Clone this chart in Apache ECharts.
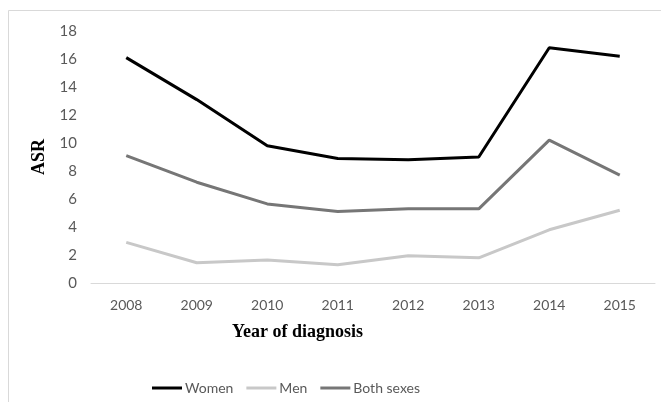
<!DOCTYPE html>
<html><head><meta charset="utf-8">
<script src="https://cdn.jsdelivr.net/npm/echarts@6/dist/echarts.min.js"></script>
<style>html,body{margin:0;padding:0;background:#fff}#c{width:661px;height:402px}</style>
</head><body><div id="c"></div>
<script>
var years = ['2008','2009','2010','2011','2012','2013','2014','2015'];
var women = [16.1, 13.1, 9.8, 8.9, 8.8, 9.0, 16.8, 16.2];
var men = [2.9, 1.45, 1.65, 1.3, 1.95, 1.8, 3.8, 5.2];
var both = [9.1, 7.2, 5.65, 5.1, 5.3, 5.3, 10.2, 7.7];
var yTicks = {min: 0, max: 18, interval: 2};

var FONT = 'Lato, "Open Sans", sans-serif';
var chart = echarts.init(document.getElementById('c'));
chart.setOption({
  animation: false,
  backgroundColor: '#fff',
  graphic: [
    {type: 'rect', shape: {x: 8.5, y: 10.5, width: 720, height: 420}, style: {fill: 'none', stroke: '#d9d9d9', lineWidth: 1}, silent: true},
    {type: 'text', left: 232, top: 323, style: {text: 'Year of diagnosis', font: 'bold 18px "Liberation Serif", "Times New Roman", serif', fill: '#000'}}
  ],
  grid: {left: 91, right: 6, top: 31, bottom: 119, containLabel: false},
  legend: {
    left: 147, top: 376,
    icon: 'rect', itemWidth: 30, itemHeight: 3, itemGap: 13,
    textStyle: {fontFamily: FONT, fontSize: 14, color: '#595959', padding: [0, 0, 0, -2]},
    data: ['Women', 'Men', 'Both sexes']
  },
  xAxis: {
    type: 'category', data: years, boundaryGap: true,
    axisLine: {lineStyle: {color: '#d9d9d9', width: 1}},
    axisTick: {show: false},
    axisLabel: {fontFamily: FONT, fontSize: 14, color: '#595959', margin: 15}
  },
  yAxis: {
    type: 'value', min: yTicks.min, max: yTicks.max, interval: yTicks.interval,
    name: 'ASR', nameLocation: 'middle', nameGap: 38, nameRotate: 90,
    nameTextStyle: {fontFamily: '"Liberation Serif", "Times New Roman", serif', fontWeight: 'bold', fontSize: 18, color: '#000'},
    axisLine: {show: false}, axisTick: {show: false},
    splitLine: {show: false},
    axisLabel: {fontFamily: FONT, fontSize: 15, color: '#595959', margin: 14}
  },
  series: [
    {name: 'Women', type: 'line', data: women, symbol: 'none', lineStyle: {color: '#000', width: 3}, itemStyle: {color: '#000'}},
    {name: 'Men', type: 'line', data: men, symbol: 'none', lineStyle: {color: '#c8c8c8', width: 3}, itemStyle: {color: '#c8c8c8'}},
    {name: 'Both sexes', type: 'line', data: both, symbol: 'none', lineStyle: {color: '#767676', width: 3}, itemStyle: {color: '#767676'}}
  ]
});
</script></body></html>
